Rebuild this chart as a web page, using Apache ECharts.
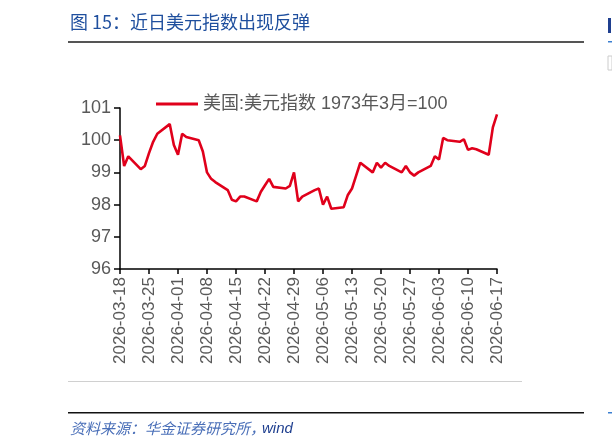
<!DOCTYPE html>
<html><head><meta charset="utf-8">
<script src="https://cdn.jsdelivr.net/npm/echarts@6/dist/echarts.min.js"></script>
<style>html,body{margin:0;padding:0;background:#fff}#c{width:612px;height:448px}</style>
</head><body><div id="c"></div>
<script>
var dates = [
 '2026-03-18','2026-03-19','2026-03-20',
 '2026-03-23','2026-03-24','2026-03-25','2026-03-26','2026-03-27',
 '2026-03-30','2026-03-31','2026-04-01','2026-04-02','2026-04-03',
 '2026-04-06','2026-04-07','2026-04-08','2026-04-09','2026-04-10',
 '2026-04-13','2026-04-14','2026-04-15','2026-04-16','2026-04-17',
 '2026-04-20','2026-04-21','2026-04-22','2026-04-23','2026-04-24',
 '2026-04-27','2026-04-28','2026-04-29','2026-04-30','2026-05-01',
 '2026-05-04','2026-05-05','2026-05-06','2026-05-07','2026-05-08',
 '2026-05-11','2026-05-12','2026-05-13','2026-05-14','2026-05-15',
 '2026-05-18','2026-05-19','2026-05-20','2026-05-21','2026-05-22',
 '2026-05-25','2026-05-26','2026-05-27','2026-05-28','2026-05-29',
 '2026-06-01','2026-06-02','2026-06-03','2026-06-04','2026-06-05',
 '2026-06-08','2026-06-09','2026-06-10','2026-06-11','2026-06-12',
 '2026-06-15','2026-06-16','2026-06-17'
];
var values = [
 100.15, 99.2, 99.5,
 99.1, 99.2, 99.6, 99.95, 100.2,
 100.5, 99.85, 99.55, 100.2, 100.1,
 100.0, 99.65, 99.0, 98.8, 98.7,
 98.45, 98.15, 98.1, 98.25, 98.25,
 98.1, 98.4, 98.6, 98.8, 98.55,
 98.5, 98.58, 99.0, 98.1, 98.25,
 98.45, 98.5, 98.0, 98.25, 97.87,
 97.92, 98.3, 98.5, 98.9, 99.3,
 99.0, 99.3, 99.15, 99.3, 99.2,
 99.0, 99.2, 99.0, 98.9, 99.0,
 99.2, 99.5, 99.4, 100.07, 100.0,
 99.95, 100.03, 99.7, 99.75, 99.72,
 99.55, 100.4, 100.8
];
var seriesName = '美国:美元指数 1973年3月=100';
var yTicks = [96, 97, 98, 99, 100, 101];

// calendar-day axis built from the observation range
function fmt(d){var m=d.getUTCMonth()+1, dd=d.getUTCDate();return d.getUTCFullYear()+'-'+(m<10?'0':'')+m+'-'+(dd<10?'0':'')+dd;}
var cats=[], map={};
dates.forEach(function(d,i){map[d]=values[i];});
var t=new Date(dates[0]+'T00:00:00Z'), end=new Date(dates[dates.length-1]+'T00:00:00Z');
while(t<=end){cats.push(fmt(t)); t=new Date(t.getTime()+86400000);}
var seriesData=cats.map(function(c){return map.hasOwnProperty(c)?map[c]:null;});

var FF = "'Liberation Sans','Noto Sans CJK SC',sans-serif";
var chart = echarts.init(document.getElementById('c'));
chart.setOption({
  animation:false,
  backgroundColor:'#fff',
  grid:{left:120, right:115, top:108, bottom:179},
  legend:{
    data:[seriesName], left:151, top:90, itemWidth:42, itemHeight:3, itemGap:7,
    icon:'rect',
    textStyle:{color:'#595959', fontSize:18, fontFamily:FF}
  },
  xAxis:{
    type:'category', data:cats, boundaryGap:false,
    axisLine:{lineStyle:{color:'#000', width:1.5}},
    axisTick:{interval:6, length:5, lineStyle:{color:'#000', width:1.5}},
    axisLabel:{interval:6, rotate:90, color:'#595959', fontSize:17, fontFamily:FF, margin:8},
    splitLine:{show:false}
  },
  yAxis:{
    type:'value', min:yTicks[0], max:yTicks[yTicks.length-1], interval:1,
    axisLine:{show:true, lineStyle:{color:'#000', width:1.5}},
    axisTick:{show:true, inside:false, length:6, lineStyle:{color:'#000', width:1.5}},
    axisLabel:{color:'#595959', fontSize:18, fontFamily:FF, margin:9},
    splitLine:{show:false}
  },
  series:[{
    name:seriesName, type:'line', data:seriesData, connectNulls:true,
    symbol:'none', lineStyle:{color:'#e0001b', width:2.6}, itemStyle:{color:'#e0001b'}
  }],
  graphic:[
    {type:'text', left:70, top:13, style:{text:'图 15：近日美元指数出现反弹', fill:'#1f4f9e', font:"18px 'Noto Sans CJK SC','Liberation Sans',sans-serif"}},
    {type:'rect', shape:{x:68, y:41, width:516, height:2}, style:{fill:'#555'}},
    {type:'rect', shape:{x:68, y:381, width:454, height:1}, style:{fill:'#d0d0d0'}},
    {type:'rect', shape:{x:68, y:412, width:516, height:1.5}, style:{fill:'#111'}},
    {type:'text', left:70, top:421, style:{text:'资料来源：华金证券研究所，', fill:'#4a6fb8', font:"italic 15px 'Noto Sans CJK SC',sans-serif"}},
    {type:'text', left:262, top:421, style:{text:'wind', fill:'#1f3f8f', font:"italic 15px 'Liberation Sans',sans-serif"}},
    {type:'rect', shape:{x:608, y:18, width:3, height:15}, style:{fill:'#1f3f8f'}},
    {type:'rect', shape:{x:608, y:41, width:4, height:1.5}, style:{fill:'#3b7fd0'}},
    {type:'rect', shape:{x:608, y:56, width:4, height:14}, style:{fill:'none', stroke:'#ccc', lineWidth:1}},
    {type:'rect', shape:{x:608, y:412, width:4, height:1.5}, style:{fill:'#3b7fd0'}}
  ]
});
</script></body></html>
